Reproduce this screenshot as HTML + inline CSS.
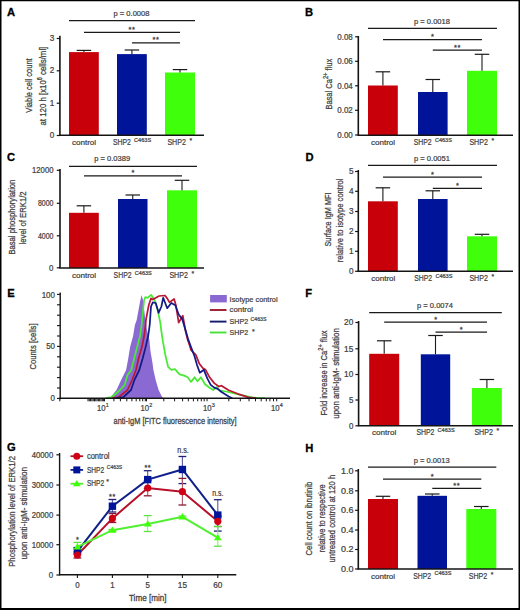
<!DOCTYPE html><html><head><meta charset="utf-8"><style>html,body{margin:0;padding:0;background:#fff;}svg{display:block;}</style></head><body>
<svg width="520" height="610" viewBox="0 0 520 610" font-family='"Liberation Sans", sans-serif'>
<rect x="0.00" y="0.00" width="520.00" height="610.00" fill="#fff"/>
<text x="7.10" y="16.30" font-size="11.2" text-anchor="start" fill="#000" font-weight="bold" stroke="#000" stroke-width="0.3" >A</text>
<line x1="59.90" y1="35.80" x2="59.90" y2="135.50" stroke="#141414" stroke-width="1.6"/>
<line x1="56.70" y1="38.50" x2="59.90" y2="38.50" stroke="#141414" stroke-width="1.2"/>
<text x="54.30" y="40.95" font-size="8.2" text-anchor="end" fill="#404040" stroke="#404040" stroke-width="0.22" >3</text>
<line x1="56.70" y1="70.80" x2="59.90" y2="70.80" stroke="#141414" stroke-width="1.2"/>
<text x="54.30" y="73.25" font-size="8.2" text-anchor="end" fill="#404040" stroke="#404040" stroke-width="0.22" >2</text>
<line x1="56.70" y1="103.20" x2="59.90" y2="103.20" stroke="#141414" stroke-width="1.2"/>
<text x="54.30" y="105.65" font-size="8.2" text-anchor="end" fill="#404040" stroke="#404040" stroke-width="0.22" >1</text>
<line x1="56.70" y1="135.50" x2="59.90" y2="135.50" stroke="#141414" stroke-width="1.2"/>
<text x="54.30" y="137.95" font-size="8.2" text-anchor="end" fill="#404040" stroke="#404040" stroke-width="0.22" >0</text>
<rect x="69.00" y="52.10" width="29.80" height="82.90" fill="#c8000a"/>
<line x1="83.90" y1="52.10" x2="83.90" y2="50.40" stroke="#1a1a1a" stroke-width="1.1"/>
<line x1="76.65" y1="50.40" x2="91.15" y2="50.40" stroke="#1a1a1a" stroke-width="1.2"/>
<rect x="117.00" y="54.10" width="29.80" height="80.90" fill="#00149a"/>
<line x1="131.90" y1="54.10" x2="131.90" y2="50.00" stroke="#1a1a1a" stroke-width="1.1"/>
<line x1="124.65" y1="50.00" x2="139.15" y2="50.00" stroke="#1a1a1a" stroke-width="1.2"/>
<rect x="165.00" y="72.50" width="30.00" height="62.50" fill="#40ff0a"/>
<line x1="180.00" y1="72.50" x2="180.00" y2="69.60" stroke="#1a1a1a" stroke-width="1.1"/>
<line x1="172.75" y1="69.60" x2="187.25" y2="69.60" stroke="#1a1a1a" stroke-width="1.2"/>
<line x1="59.30" y1="135.20" x2="204.00" y2="135.20" stroke="#141414" stroke-width="1.45"/>
<line x1="69.00" y1="20.60" x2="195.00" y2="20.60" stroke="#1a1a1a" stroke-width="1.25"/>
<text x="131.50" y="16.30" font-size="7.7" text-anchor="middle" fill="#404040" textLength="36" lengthAdjust="spacingAndGlyphs" stroke="#404040" stroke-width="0.22" >p = 0.0008</text>
<line x1="84.00" y1="32.30" x2="180.00" y2="32.30" stroke="#1a1a1a" stroke-width="1.25"/>
<text x="132.00" y="31.80" font-size="7.4" text-anchor="middle" fill="#404040" stroke="#404040" stroke-width="0.3" letter-spacing="0.6">**</text>
<line x1="132.00" y1="42.80" x2="180.00" y2="42.80" stroke="#1a1a1a" stroke-width="1.25"/>
<text x="156.00" y="42.30" font-size="7.4" text-anchor="middle" fill="#404040" stroke="#404040" stroke-width="0.3" letter-spacing="0.6">**</text>
<text x="84.00" y="145.00" font-size="8" text-anchor="middle" fill="#404040" textLength="24.2" lengthAdjust="spacingAndGlyphs" stroke="#404040" stroke-width="0.22" >control</text>
<text x="112.90" y="145.00" font-size="8.799999999999999" text-anchor="start" fill="#404040" textLength="18" lengthAdjust="spacingAndGlyphs" stroke="#404040" stroke-width="0.22" >SHP2</text>
<text x="134.10" y="141.70" font-size="5.3" text-anchor="start" fill="#404040" textLength="17" lengthAdjust="spacingAndGlyphs" stroke="#404040" stroke-width="0.22" >C463S</text>
<text x="167.40" y="145.00" font-size="8.799999999999999" text-anchor="start" fill="#404040" textLength="18.5" lengthAdjust="spacingAndGlyphs" stroke="#404040" stroke-width="0.22" >SHP2</text>
<text x="190.90" y="142.80" font-size="6.8" text-anchor="middle" fill="#404040" stroke="#404040" stroke-width="0.22" >*</text>
<text x="32.40" y="85.50" font-size="9.5" text-anchor="middle" fill="#404040" textLength="54.3" lengthAdjust="spacingAndGlyphs" transform="rotate(-90 32.40 85.50)" stroke="#404040" stroke-width="0.26" >Viable cell count</text>
<text x="45.90" y="86.10" font-size="9.5" text-anchor="middle" fill="#404040" textLength="78.8" lengthAdjust="spacingAndGlyphs" transform="rotate(-90 45.90 86.10)" stroke="#404040" stroke-width="0.26" >at 120 h [x10<tspan dy="-3.5" font-size="6.5">6</tspan><tspan dy="3.5"> cells/ml]</tspan></text>
<text x="305.00" y="16.40" font-size="11.2" text-anchor="start" fill="#000" font-weight="bold" stroke="#000" stroke-width="0.3" >B</text>
<line x1="358.30" y1="36.00" x2="358.30" y2="135.30" stroke="#141414" stroke-width="1.6"/>
<line x1="355.10" y1="36.80" x2="358.30" y2="36.80" stroke="#141414" stroke-width="1.2"/>
<text x="352.80" y="39.75" font-size="8.2" text-anchor="end" fill="#404040" textLength="15.5" lengthAdjust="spacingAndGlyphs" stroke="#404040" stroke-width="0.22" >0.08</text>
<line x1="355.10" y1="61.30" x2="358.30" y2="61.30" stroke="#141414" stroke-width="1.2"/>
<text x="352.80" y="64.25" font-size="8.2" text-anchor="end" fill="#404040" textLength="15.5" lengthAdjust="spacingAndGlyphs" stroke="#404040" stroke-width="0.22" >0.06</text>
<line x1="355.10" y1="85.80" x2="358.30" y2="85.80" stroke="#141414" stroke-width="1.2"/>
<text x="352.80" y="88.75" font-size="8.2" text-anchor="end" fill="#404040" textLength="15.5" lengthAdjust="spacingAndGlyphs" stroke="#404040" stroke-width="0.22" >0.04</text>
<line x1="355.10" y1="110.30" x2="358.30" y2="110.30" stroke="#141414" stroke-width="1.2"/>
<text x="352.80" y="113.25" font-size="8.2" text-anchor="end" fill="#404040" textLength="15.5" lengthAdjust="spacingAndGlyphs" stroke="#404040" stroke-width="0.22" >0.02</text>
<line x1="355.10" y1="135.00" x2="358.30" y2="135.00" stroke="#141414" stroke-width="1.2"/>
<text x="352.80" y="137.95" font-size="8.2" text-anchor="end" fill="#404040" textLength="15.5" lengthAdjust="spacingAndGlyphs" stroke="#404040" stroke-width="0.22" >0.00</text>
<rect x="368.00" y="85.50" width="29.80" height="49.50" fill="#c8000a"/>
<line x1="382.90" y1="85.50" x2="382.90" y2="71.80" stroke="#1a1a1a" stroke-width="1.1"/>
<line x1="375.65" y1="71.80" x2="390.15" y2="71.80" stroke="#1a1a1a" stroke-width="1.2"/>
<rect x="418.00" y="92.00" width="29.60" height="43.00" fill="#00149a"/>
<line x1="432.80" y1="92.00" x2="432.80" y2="79.50" stroke="#1a1a1a" stroke-width="1.1"/>
<line x1="425.55" y1="79.50" x2="440.05" y2="79.50" stroke="#1a1a1a" stroke-width="1.2"/>
<rect x="467.00" y="70.80" width="30.00" height="64.20" fill="#40ff0a"/>
<line x1="482.00" y1="70.80" x2="482.00" y2="54.30" stroke="#1a1a1a" stroke-width="1.1"/>
<line x1="474.75" y1="54.30" x2="489.25" y2="54.30" stroke="#1a1a1a" stroke-width="1.2"/>
<line x1="357.60" y1="135.20" x2="513.00" y2="135.20" stroke="#141414" stroke-width="1.45"/>
<line x1="368.00" y1="28.30" x2="497.00" y2="28.30" stroke="#1a1a1a" stroke-width="1.25"/>
<text x="432.00" y="24.00" font-size="7.7" text-anchor="middle" fill="#404040" textLength="36" lengthAdjust="spacingAndGlyphs" stroke="#404040" stroke-width="0.22" >p = 0.0018</text>
<line x1="383.00" y1="39.50" x2="482.00" y2="39.50" stroke="#1a1a1a" stroke-width="1.25"/>
<text x="432.50" y="39.00" font-size="7.4" text-anchor="middle" fill="#404040" stroke="#404040" stroke-width="0.3" >*</text>
<line x1="432.80" y1="50.00" x2="482.00" y2="50.00" stroke="#1a1a1a" stroke-width="1.25"/>
<text x="457.40" y="49.50" font-size="7.4" text-anchor="middle" fill="#404040" stroke="#404040" stroke-width="0.3" letter-spacing="0.6">**</text>
<text x="383.00" y="145.00" font-size="8" text-anchor="middle" fill="#404040" textLength="24.2" lengthAdjust="spacingAndGlyphs" stroke="#404040" stroke-width="0.22" >control</text>
<text x="413.70" y="145.00" font-size="8.799999999999999" text-anchor="start" fill="#404040" textLength="18" lengthAdjust="spacingAndGlyphs" stroke="#404040" stroke-width="0.22" >SHP2</text>
<text x="434.90" y="141.70" font-size="5.3" text-anchor="start" fill="#404040" textLength="17" lengthAdjust="spacingAndGlyphs" stroke="#404040" stroke-width="0.22" >C463S</text>
<text x="469.40" y="145.00" font-size="8.799999999999999" text-anchor="start" fill="#404040" textLength="18.5" lengthAdjust="spacingAndGlyphs" stroke="#404040" stroke-width="0.22" >SHP2</text>
<text x="492.90" y="142.80" font-size="6.8" text-anchor="middle" fill="#404040" stroke="#404040" stroke-width="0.22" >*</text>
<text x="332.20" y="84.20" font-size="9.5" text-anchor="middle" fill="#404040" textLength="50.7" lengthAdjust="spacingAndGlyphs" transform="rotate(-90 332.20 84.20)" stroke="#404040" stroke-width="0.26" >Basal Ca<tspan dy="-4" font-size="7.2">2+</tspan><tspan dy="4"> flux</tspan></text>
<text x="7.10" y="161.10" font-size="11.2" text-anchor="start" fill="#000" font-weight="bold" stroke="#000" stroke-width="0.3" >C</text>
<line x1="60.00" y1="169.00" x2="60.00" y2="268.00" stroke="#141414" stroke-width="1.6"/>
<line x1="56.80" y1="170.30" x2="60.00" y2="170.30" stroke="#141414" stroke-width="1.2"/>
<text x="53.50" y="173.25" font-size="8.2" text-anchor="end" fill="#404040" textLength="21.5" lengthAdjust="spacingAndGlyphs" stroke="#404040" stroke-width="0.22" >12000</text>
<line x1="56.80" y1="203.30" x2="60.00" y2="203.30" stroke="#141414" stroke-width="1.2"/>
<text x="53.50" y="206.25" font-size="8.2" text-anchor="end" fill="#404040" textLength="15.5" lengthAdjust="spacingAndGlyphs" stroke="#404040" stroke-width="0.22" >8000</text>
<line x1="56.80" y1="235.80" x2="60.00" y2="235.80" stroke="#141414" stroke-width="1.2"/>
<text x="53.50" y="238.75" font-size="8.2" text-anchor="end" fill="#404040" textLength="15.5" lengthAdjust="spacingAndGlyphs" stroke="#404040" stroke-width="0.22" >4000</text>
<line x1="56.80" y1="267.80" x2="60.00" y2="267.80" stroke="#141414" stroke-width="1.2"/>
<text x="53.50" y="270.75" font-size="8.2" text-anchor="end" fill="#404040" textLength="4.4" lengthAdjust="spacingAndGlyphs" stroke="#404040" stroke-width="0.22" >0</text>
<rect x="69.00" y="212.80" width="29.80" height="55.20" fill="#c8000a"/>
<line x1="83.90" y1="212.80" x2="83.90" y2="205.80" stroke="#1a1a1a" stroke-width="1.1"/>
<line x1="76.65" y1="205.80" x2="91.15" y2="205.80" stroke="#1a1a1a" stroke-width="1.2"/>
<rect x="118.00" y="199.00" width="29.50" height="69.00" fill="#00149a"/>
<line x1="132.75" y1="199.00" x2="132.75" y2="195.00" stroke="#1a1a1a" stroke-width="1.1"/>
<line x1="125.50" y1="195.00" x2="140.00" y2="195.00" stroke="#1a1a1a" stroke-width="1.2"/>
<rect x="167.00" y="190.30" width="30.00" height="77.70" fill="#40ff0a"/>
<line x1="182.00" y1="190.30" x2="182.00" y2="180.30" stroke="#1a1a1a" stroke-width="1.1"/>
<line x1="174.75" y1="180.30" x2="189.25" y2="180.30" stroke="#1a1a1a" stroke-width="1.2"/>
<line x1="59.30" y1="268.00" x2="204.00" y2="268.00" stroke="#141414" stroke-width="1.45"/>
<line x1="69.00" y1="166.30" x2="197.00" y2="166.30" stroke="#1a1a1a" stroke-width="1.25"/>
<text x="112.20" y="161.40" font-size="7.7" text-anchor="middle" fill="#404040" textLength="36" lengthAdjust="spacingAndGlyphs" stroke="#404040" stroke-width="0.22" >p = 0.0389</text>
<line x1="84.00" y1="175.80" x2="182.00" y2="175.80" stroke="#1a1a1a" stroke-width="1.25"/>
<text x="133.00" y="175.30" font-size="7.4" text-anchor="middle" fill="#404040" stroke="#404040" stroke-width="0.3" >*</text>
<text x="84.00" y="278.40" font-size="8" text-anchor="middle" fill="#404040" textLength="24.2" lengthAdjust="spacingAndGlyphs" stroke="#404040" stroke-width="0.22" >control</text>
<text x="113.60" y="278.40" font-size="8.799999999999999" text-anchor="start" fill="#404040" textLength="18" lengthAdjust="spacingAndGlyphs" stroke="#404040" stroke-width="0.22" >SHP2</text>
<text x="134.80" y="275.10" font-size="5.3" text-anchor="start" fill="#404040" textLength="17" lengthAdjust="spacingAndGlyphs" stroke="#404040" stroke-width="0.22" >C463S</text>
<text x="169.40" y="278.40" font-size="8.799999999999999" text-anchor="start" fill="#404040" textLength="18.5" lengthAdjust="spacingAndGlyphs" stroke="#404040" stroke-width="0.22" >SHP2</text>
<text x="192.90" y="276.20" font-size="6.8" text-anchor="middle" fill="#404040" stroke="#404040" stroke-width="0.22" >*</text>
<text x="14.70" y="217.10" font-size="9.5" text-anchor="middle" fill="#404040" textLength="74.8" lengthAdjust="spacingAndGlyphs" transform="rotate(-90 14.70 217.10)" stroke="#404040" stroke-width="0.26" >Basal phosphorylation</text>
<text x="26.00" y="217.90" font-size="9.5" text-anchor="middle" fill="#404040" textLength="53" lengthAdjust="spacingAndGlyphs" transform="rotate(-90 26.00 217.90)" stroke="#404040" stroke-width="0.26" >level of ERK1/2</text>
<text x="305.50" y="161.10" font-size="11.2" text-anchor="start" fill="#000" font-weight="bold" stroke="#000" stroke-width="0.3" >D</text>
<line x1="358.30" y1="170.00" x2="358.30" y2="271.50" stroke="#141414" stroke-width="1.6"/>
<line x1="355.10" y1="171.50" x2="358.30" y2="171.50" stroke="#141414" stroke-width="1.2"/>
<text x="353.50" y="174.45" font-size="8.2" text-anchor="end" fill="#404040" stroke="#404040" stroke-width="0.22" >5</text>
<line x1="355.10" y1="191.30" x2="358.30" y2="191.30" stroke="#141414" stroke-width="1.2"/>
<text x="353.50" y="194.25" font-size="8.2" text-anchor="end" fill="#404040" stroke="#404040" stroke-width="0.22" >4</text>
<line x1="355.10" y1="211.50" x2="358.30" y2="211.50" stroke="#141414" stroke-width="1.2"/>
<text x="353.50" y="214.45" font-size="8.2" text-anchor="end" fill="#404040" stroke="#404040" stroke-width="0.22" >3</text>
<line x1="355.10" y1="231.50" x2="358.30" y2="231.50" stroke="#141414" stroke-width="1.2"/>
<text x="353.50" y="234.45" font-size="8.2" text-anchor="end" fill="#404040" stroke="#404040" stroke-width="0.22" >2</text>
<line x1="355.10" y1="251.30" x2="358.30" y2="251.30" stroke="#141414" stroke-width="1.2"/>
<text x="353.50" y="254.25" font-size="8.2" text-anchor="end" fill="#404040" stroke="#404040" stroke-width="0.22" >1</text>
<line x1="355.10" y1="271.30" x2="358.30" y2="271.30" stroke="#141414" stroke-width="1.2"/>
<text x="353.50" y="274.25" font-size="8.2" text-anchor="end" fill="#404040" stroke="#404040" stroke-width="0.22" >0</text>
<rect x="368.00" y="201.30" width="29.80" height="70.00" fill="#c8000a"/>
<line x1="382.90" y1="201.30" x2="382.90" y2="187.80" stroke="#1a1a1a" stroke-width="1.1"/>
<line x1="375.65" y1="187.80" x2="390.15" y2="187.80" stroke="#1a1a1a" stroke-width="1.2"/>
<rect x="418.00" y="199.00" width="29.60" height="72.30" fill="#00149a"/>
<line x1="432.80" y1="199.00" x2="432.80" y2="190.80" stroke="#1a1a1a" stroke-width="1.1"/>
<line x1="425.55" y1="190.80" x2="440.05" y2="190.80" stroke="#1a1a1a" stroke-width="1.2"/>
<rect x="467.00" y="236.30" width="30.00" height="35.00" fill="#40ff0a"/>
<line x1="482.00" y1="236.30" x2="482.00" y2="234.30" stroke="#1a1a1a" stroke-width="1.1"/>
<line x1="474.75" y1="234.30" x2="489.25" y2="234.30" stroke="#1a1a1a" stroke-width="1.2"/>
<line x1="357.60" y1="271.30" x2="513.00" y2="271.30" stroke="#141414" stroke-width="1.45"/>
<line x1="368.00" y1="165.30" x2="497.00" y2="165.30" stroke="#1a1a1a" stroke-width="1.25"/>
<text x="432.00" y="161.00" font-size="7.7" text-anchor="middle" fill="#404040" textLength="36" lengthAdjust="spacingAndGlyphs" stroke="#404040" stroke-width="0.22" >p = 0.0051</text>
<line x1="383.00" y1="177.00" x2="482.00" y2="177.00" stroke="#1a1a1a" stroke-width="1.25"/>
<text x="432.50" y="176.50" font-size="7.4" text-anchor="middle" fill="#404040" stroke="#404040" stroke-width="0.3" >*</text>
<line x1="432.80" y1="188.30" x2="482.00" y2="188.30" stroke="#1a1a1a" stroke-width="1.25"/>
<text x="457.40" y="187.80" font-size="7.4" text-anchor="middle" fill="#404040" stroke="#404040" stroke-width="0.3" >*</text>
<text x="383.30" y="280.90" font-size="8" text-anchor="middle" fill="#404040" textLength="24.2" lengthAdjust="spacingAndGlyphs" stroke="#404040" stroke-width="0.22" >control</text>
<text x="414.20" y="280.90" font-size="8.799999999999999" text-anchor="start" fill="#404040" textLength="18" lengthAdjust="spacingAndGlyphs" stroke="#404040" stroke-width="0.22" >SHP2</text>
<text x="435.40" y="277.60" font-size="5.3" text-anchor="start" fill="#404040" textLength="17" lengthAdjust="spacingAndGlyphs" stroke="#404040" stroke-width="0.22" >C463S</text>
<text x="469.40" y="280.90" font-size="8.799999999999999" text-anchor="start" fill="#404040" textLength="18.5" lengthAdjust="spacingAndGlyphs" stroke="#404040" stroke-width="0.22" >SHP2</text>
<text x="492.90" y="278.70" font-size="6.8" text-anchor="middle" fill="#404040" stroke="#404040" stroke-width="0.22" >*</text>
<text x="331.20" y="219.50" font-size="9.5" text-anchor="middle" fill="#404040" textLength="54" lengthAdjust="spacingAndGlyphs" transform="rotate(-90 331.20 219.50)" stroke="#404040" stroke-width="0.26" >Surface IgM MFI</text>
<text x="343.00" y="220.50" font-size="9.5" text-anchor="middle" fill="#404040" textLength="83.7" lengthAdjust="spacingAndGlyphs" transform="rotate(-90 343.00 220.50)" stroke="#404040" stroke-width="0.26" >relative to isotype control</text>
<text x="7.20" y="297.30" font-size="11.2" text-anchor="start" fill="#000" font-weight="bold" stroke="#000" stroke-width="0.3" >E</text>
<line x1="60.20" y1="292.50" x2="60.20" y2="399.20" stroke="#141414" stroke-width="1.4"/>
<line x1="57.00" y1="398.40" x2="60.20" y2="398.40" stroke="#141414" stroke-width="1.1"/>
<line x1="57.00" y1="388.00" x2="60.20" y2="388.00" stroke="#141414" stroke-width="1.1"/>
<line x1="57.00" y1="377.60" x2="60.20" y2="377.60" stroke="#141414" stroke-width="1.1"/>
<line x1="57.00" y1="367.20" x2="60.20" y2="367.20" stroke="#141414" stroke-width="1.1"/>
<line x1="57.00" y1="356.80" x2="60.20" y2="356.80" stroke="#141414" stroke-width="1.1"/>
<line x1="57.00" y1="346.40" x2="60.20" y2="346.40" stroke="#141414" stroke-width="1.1"/>
<line x1="57.00" y1="336.00" x2="60.20" y2="336.00" stroke="#141414" stroke-width="1.1"/>
<line x1="57.00" y1="325.60" x2="60.20" y2="325.60" stroke="#141414" stroke-width="1.1"/>
<line x1="57.00" y1="315.20" x2="60.20" y2="315.20" stroke="#141414" stroke-width="1.1"/>
<line x1="57.00" y1="304.80" x2="60.20" y2="304.80" stroke="#141414" stroke-width="1.1"/>
<line x1="57.00" y1="294.40" x2="60.20" y2="294.40" stroke="#141414" stroke-width="1.1"/>
<text x="55.00" y="297.50" font-size="8.2" text-anchor="end" fill="#404040" textLength="13.3" lengthAdjust="spacingAndGlyphs" stroke="#404040" stroke-width="0.22" >100</text>
<text x="55.00" y="349.30" font-size="8.2" text-anchor="end" fill="#404040" textLength="8.8" lengthAdjust="spacingAndGlyphs" stroke="#404040" stroke-width="0.22" >50</text>
<text x="55.00" y="401.30" font-size="8.2" text-anchor="end" fill="#404040" textLength="4.4" lengthAdjust="spacingAndGlyphs" stroke="#404040" stroke-width="0.22" >0</text>
<text x="35.70" y="346.50" font-size="9.5" text-anchor="middle" fill="#404040" textLength="46.2" lengthAdjust="spacingAndGlyphs" transform="rotate(-90 35.70 346.50)" stroke="#404040" stroke-width="0.26" >Counts [cells]</text>
<path d="M108,398.3 L110.8,397 L116.5,390 L121.1,380 L126.1,370 L128.3,358.2 L130.1,347.1 L133.1,336 L134.9,325 L136.7,320 L138.5,310 L140,302 L141.6,294.9 L143,300 L144.2,310 L145.3,320 L147,330 L149.4,340 L150.5,351.5 L152.5,363 L153.4,370 L155.7,380 L158.6,390 L162.1,397 L164,398.3 Z" fill="#8a6ad2"/>
<path d="M106,398 L111.9,397 L116,393.5 L120,390 L124.6,385 L127.5,375 L131.2,370 L134.2,358.2 L137.1,347.1 L140.1,336 L141.6,325 L142.6,315 L144.1,300 L145.3,297.2 L147.6,297.8 L151,294.9 L154.5,299.5 L157.4,308.8 L160.3,322.6 L161.2,330 L162.9,341.5 L165.2,354.2 L168.1,366.9 L171.5,369.8 L175,369.2 L179.6,374.4 L184.2,375.6 L187.7,377.3 L191.1,381.9 L194.6,377.3 L197.5,381.3 L200.9,377.3 L205,384.2 L209.6,387.7 L213.1,390 L216.5,387.1 L220,390.6 L226,391.5 L232.3,392.9 L239.5,394.7 L246,396 L252,397.4 L258,398 L265,398.2" fill="none" stroke="#48ea34" stroke-width="1.75" stroke-linejoin="round"/>
<path d="M112,398.2 L118.8,397 L127.5,390 L132.1,380 L136,370 L138.6,358.2 L141.9,347.1 L144.1,336 L145.6,325 L145.9,320 L148.8,305 L151,298.4 L152.8,299.5 L156.8,297.2 L159.1,296 L164.9,295.5 L167.2,298.4 L169.5,302.4 L174.1,299 L175.9,305.3 L178.7,322.6 L182.8,315.7 L185.7,331.8 L188,341 L188.8,342.7 L191.1,350.2 L195.8,354.8 L199.2,363.4 L202.7,368.1 L205.6,369.8 L209.6,377.3 L214.2,383.1 L218.8,386.5 L221.5,385.7 L228.7,390.2 L237.7,393.8 L248.5,397.4 L256,398.2" fill="none" stroke="#b81834" stroke-width="1.75" stroke-linejoin="round"/>
<path d="M116,398.2 L123.5,397 L131,390 L134.4,380 L139.3,370 L142.7,358.2 L145.6,347.1 L148.2,336 L149.7,325 L150.4,315 L151,306.5 L152.8,302.4 L155.7,303 L158.6,312.8 L161.4,306.5 L163.2,297.8 L167.2,308.2 L171.3,303 L175.3,305.3 L178.7,314.5 L182.2,319.1 L185.7,330.7 L188,338.7 L191.1,347.3 L194.6,356.5 L196.9,364.6 L199.8,372.7 L201.5,371.5 L203.8,369.8 L207.3,378.4 L210.7,384.8 L214.2,387.7 L217.7,388.8 L221.5,392 L228.7,396.5 L232.3,398.2" fill="none" stroke="#141a88" stroke-width="1.75" stroke-linejoin="round"/>
<line x1="59.50" y1="398.30" x2="290.00" y2="398.30" stroke="#141414" stroke-width="1.5"/>
<line x1="59.80" y1="398.30" x2="59.80" y2="401.30" stroke="#141414" stroke-width="1.0"/>
<line x1="88.00" y1="398.30" x2="88.00" y2="401.30" stroke="#141414" stroke-width="1.0"/>
<line x1="89.30" y1="398.30" x2="89.30" y2="401.30" stroke="#141414" stroke-width="1.0"/>
<line x1="90.60" y1="398.30" x2="90.60" y2="401.30" stroke="#141414" stroke-width="1.0"/>
<line x1="91.90" y1="398.30" x2="91.90" y2="401.30" stroke="#141414" stroke-width="1.0"/>
<line x1="93.20" y1="398.30" x2="93.20" y2="401.30" stroke="#141414" stroke-width="1.0"/>
<line x1="94.50" y1="398.30" x2="94.50" y2="401.30" stroke="#141414" stroke-width="1.0"/>
<line x1="95.80" y1="398.30" x2="95.80" y2="401.30" stroke="#141414" stroke-width="1.0"/>
<line x1="97.10" y1="398.30" x2="97.10" y2="401.30" stroke="#141414" stroke-width="1.0"/>
<line x1="98.40" y1="398.30" x2="98.40" y2="401.30" stroke="#141414" stroke-width="1.0"/>
<line x1="99.70" y1="398.30" x2="99.70" y2="401.30" stroke="#141414" stroke-width="1.0"/>
<line x1="101.00" y1="398.30" x2="101.00" y2="401.30" stroke="#141414" stroke-width="1.0"/>
<line x1="102.30" y1="398.30" x2="102.30" y2="401.30" stroke="#141414" stroke-width="1.0"/>
<line x1="103.60" y1="398.30" x2="103.60" y2="401.30" stroke="#141414" stroke-width="1.0"/>
<line x1="104.50" y1="398.30" x2="104.50" y2="401.30" stroke="#141414" stroke-width="1.0"/>
<line x1="113.90" y1="398.30" x2="113.90" y2="401.30" stroke="#141414" stroke-width="1.0"/>
<line x1="120.40" y1="398.30" x2="120.40" y2="401.30" stroke="#141414" stroke-width="1.0"/>
<line x1="126.80" y1="398.30" x2="126.80" y2="401.30" stroke="#141414" stroke-width="1.0"/>
<line x1="131.90" y1="398.30" x2="131.90" y2="401.30" stroke="#141414" stroke-width="1.0"/>
<line x1="136.20" y1="398.30" x2="136.20" y2="401.30" stroke="#141414" stroke-width="1.0"/>
<line x1="139.80" y1="398.30" x2="139.80" y2="401.30" stroke="#141414" stroke-width="1.0"/>
<line x1="142.70" y1="398.30" x2="142.70" y2="401.30" stroke="#141414" stroke-width="1.0"/>
<line x1="145.30" y1="398.30" x2="145.30" y2="401.30" stroke="#141414" stroke-width="1.0"/>
<line x1="146.50" y1="398.30" x2="146.50" y2="401.30" stroke="#141414" stroke-width="1.0"/>
<line x1="163.80" y1="398.30" x2="163.80" y2="401.30" stroke="#141414" stroke-width="1.0"/>
<line x1="174.60" y1="398.30" x2="174.60" y2="401.30" stroke="#141414" stroke-width="1.0"/>
<line x1="182.60" y1="398.30" x2="182.60" y2="401.30" stroke="#141414" stroke-width="1.0"/>
<line x1="188.30" y1="398.30" x2="188.30" y2="401.30" stroke="#141414" stroke-width="1.0"/>
<line x1="193.40" y1="398.30" x2="193.40" y2="401.30" stroke="#141414" stroke-width="1.0"/>
<line x1="197.70" y1="398.30" x2="197.70" y2="401.30" stroke="#141414" stroke-width="1.0"/>
<line x1="201.30" y1="398.30" x2="201.30" y2="401.30" stroke="#141414" stroke-width="1.0"/>
<line x1="204.20" y1="398.30" x2="204.20" y2="401.30" stroke="#141414" stroke-width="1.0"/>
<line x1="207.00" y1="398.30" x2="207.00" y2="401.30" stroke="#141414" stroke-width="1.0"/>
<line x1="228.80" y1="398.30" x2="228.80" y2="401.30" stroke="#141414" stroke-width="1.0"/>
<line x1="240.30" y1="398.30" x2="240.30" y2="401.30" stroke="#141414" stroke-width="1.0"/>
<line x1="249.00" y1="398.30" x2="249.00" y2="401.30" stroke="#141414" stroke-width="1.0"/>
<line x1="255.50" y1="398.30" x2="255.50" y2="401.30" stroke="#141414" stroke-width="1.0"/>
<line x1="261.20" y1="398.30" x2="261.20" y2="401.30" stroke="#141414" stroke-width="1.0"/>
<line x1="266.30" y1="398.30" x2="266.30" y2="401.30" stroke="#141414" stroke-width="1.0"/>
<line x1="269.90" y1="398.30" x2="269.90" y2="401.30" stroke="#141414" stroke-width="1.0"/>
<line x1="273.50" y1="398.30" x2="273.50" y2="401.30" stroke="#141414" stroke-width="1.0"/>
<line x1="276.70" y1="398.30" x2="276.70" y2="401.30" stroke="#141414" stroke-width="1.0"/>
<text x="97.00" y="410.80" font-size="8.2" text-anchor="start" fill="#404040" textLength="8.6" lengthAdjust="spacingAndGlyphs" stroke="#404040" stroke-width="0.22" >10</text>
<text x="105.80" y="406.50" font-size="5.5" text-anchor="start" fill="#404040" stroke="#404040" stroke-width="0.22" >1</text>
<text x="140.50" y="410.80" font-size="8.2" text-anchor="start" fill="#404040" textLength="8.6" lengthAdjust="spacingAndGlyphs" stroke="#404040" stroke-width="0.22" >10</text>
<text x="149.30" y="406.50" font-size="5.5" text-anchor="start" fill="#404040" stroke="#404040" stroke-width="0.22" >2</text>
<text x="203.00" y="410.80" font-size="8.2" text-anchor="start" fill="#404040" textLength="8.6" lengthAdjust="spacingAndGlyphs" stroke="#404040" stroke-width="0.22" >10</text>
<text x="211.80" y="406.50" font-size="5.5" text-anchor="start" fill="#404040" stroke="#404040" stroke-width="0.22" >3</text>
<text x="271.00" y="410.80" font-size="8.2" text-anchor="start" fill="#404040" textLength="8.6" lengthAdjust="spacingAndGlyphs" stroke="#404040" stroke-width="0.22" >10</text>
<text x="279.80" y="406.50" font-size="5.5" text-anchor="start" fill="#404040" stroke="#404040" stroke-width="0.22" >4</text>
<text x="175.00" y="424.20" font-size="9.2" text-anchor="middle" fill="#404040" textLength="123" lengthAdjust="spacingAndGlyphs" stroke="#404040" stroke-width="0.28" >anti-IgM [FITC fluorescence intensity]</text>
<rect x="210.10" y="295.00" width="16.70" height="7.40" fill="#8a6ad2"/>
<text x="229.60" y="301.70" font-size="8" text-anchor="start" fill="#404040" textLength="48" lengthAdjust="spacingAndGlyphs" stroke="#404040" stroke-width="0.22" >Isotype control</text>
<line x1="209.80" y1="310.00" x2="226.50" y2="310.00" stroke="#9c1a2c" stroke-width="1.9"/>
<text x="229.60" y="312.40" font-size="8" text-anchor="start" fill="#404040" textLength="23.4" lengthAdjust="spacingAndGlyphs" stroke="#404040" stroke-width="0.22" >control</text>
<line x1="209.80" y1="321.60" x2="226.50" y2="321.60" stroke="#141a70" stroke-width="1.9"/>
<text x="229.60" y="324.40" font-size="7.8" text-anchor="start" fill="#404040" textLength="18.5" lengthAdjust="spacingAndGlyphs" stroke="#404040" stroke-width="0.22" >SHP2</text>
<text x="250.50" y="320.50" font-size="5.5" text-anchor="start" fill="#404040" textLength="16" lengthAdjust="spacingAndGlyphs" stroke="#404040" stroke-width="0.22" >C463S</text>
<line x1="209.80" y1="332.50" x2="226.50" y2="332.50" stroke="#48e038" stroke-width="1.9"/>
<text x="229.60" y="335.30" font-size="7.8" text-anchor="start" fill="#404040" textLength="18.5" lengthAdjust="spacingAndGlyphs" stroke="#404040" stroke-width="0.22" >SHP2</text>
<text x="252.00" y="333.50" font-size="7" text-anchor="start" fill="#404040" stroke="#404040" stroke-width="0.22" >*</text>
<text x="305.20" y="297.30" font-size="11.2" text-anchor="start" fill="#000" font-weight="bold" stroke="#000" stroke-width="0.3" >F</text>
<line x1="358.60" y1="321.00" x2="358.60" y2="426.00" stroke="#141414" stroke-width="1.6"/>
<line x1="355.40" y1="322.50" x2="358.60" y2="322.50" stroke="#141414" stroke-width="1.2"/>
<text x="353.30" y="325.45" font-size="8.2" text-anchor="end" fill="#404040" textLength="9.2" lengthAdjust="spacingAndGlyphs" stroke="#404040" stroke-width="0.22" >20</text>
<line x1="355.40" y1="348.80" x2="358.60" y2="348.80" stroke="#141414" stroke-width="1.2"/>
<text x="353.30" y="351.75" font-size="8.2" text-anchor="end" fill="#404040" textLength="9.2" lengthAdjust="spacingAndGlyphs" stroke="#404040" stroke-width="0.22" >15</text>
<line x1="355.40" y1="374.50" x2="358.60" y2="374.50" stroke="#141414" stroke-width="1.2"/>
<text x="353.30" y="377.45" font-size="8.2" text-anchor="end" fill="#404040" textLength="9.2" lengthAdjust="spacingAndGlyphs" stroke="#404040" stroke-width="0.22" >10</text>
<line x1="355.40" y1="400.00" x2="358.60" y2="400.00" stroke="#141414" stroke-width="1.2"/>
<text x="353.30" y="402.95" font-size="8.2" text-anchor="end" fill="#404040" textLength="4.4" lengthAdjust="spacingAndGlyphs" stroke="#404040" stroke-width="0.22" >5</text>
<line x1="355.40" y1="425.80" x2="358.60" y2="425.80" stroke="#141414" stroke-width="1.2"/>
<text x="353.30" y="428.75" font-size="8.2" text-anchor="end" fill="#404040" textLength="4.4" lengthAdjust="spacingAndGlyphs" stroke="#404040" stroke-width="0.22" >0</text>
<rect x="369.20" y="353.80" width="30.00" height="72.00" fill="#c8000a"/>
<line x1="384.20" y1="353.80" x2="384.20" y2="340.80" stroke="#1a1a1a" stroke-width="1.1"/>
<line x1="376.95" y1="340.80" x2="391.45" y2="340.80" stroke="#1a1a1a" stroke-width="1.2"/>
<rect x="420.80" y="354.30" width="29.40" height="71.50" fill="#00149a"/>
<line x1="435.50" y1="354.30" x2="435.50" y2="335.50" stroke="#1a1a1a" stroke-width="1.1"/>
<line x1="428.25" y1="335.50" x2="442.75" y2="335.50" stroke="#1a1a1a" stroke-width="1.2"/>
<rect x="472.00" y="388.00" width="29.80" height="37.80" fill="#40ff0a"/>
<line x1="486.90" y1="388.00" x2="486.90" y2="379.50" stroke="#1a1a1a" stroke-width="1.1"/>
<line x1="479.65" y1="379.50" x2="494.15" y2="379.50" stroke="#1a1a1a" stroke-width="1.2"/>
<line x1="357.90" y1="425.80" x2="513.00" y2="425.80" stroke="#141414" stroke-width="1.45"/>
<line x1="369.20" y1="312.50" x2="501.80" y2="312.50" stroke="#1a1a1a" stroke-width="1.25"/>
<text x="435.00" y="308.20" font-size="7.7" text-anchor="middle" fill="#404040" textLength="36" lengthAdjust="spacingAndGlyphs" stroke="#404040" stroke-width="0.22" >p = 0.0074</text>
<line x1="384.20" y1="322.00" x2="487.00" y2="322.00" stroke="#1a1a1a" stroke-width="1.25"/>
<text x="435.60" y="321.50" font-size="7.4" text-anchor="middle" fill="#404040" stroke="#404040" stroke-width="0.3" >*</text>
<line x1="435.50" y1="332.00" x2="487.00" y2="332.00" stroke="#1a1a1a" stroke-width="1.25"/>
<text x="461.25" y="331.50" font-size="7.4" text-anchor="middle" fill="#404040" stroke="#404040" stroke-width="0.3" >*</text>
<text x="384.20" y="435.30" font-size="8" text-anchor="middle" fill="#404040" textLength="24.2" lengthAdjust="spacingAndGlyphs" stroke="#404040" stroke-width="0.22" >control</text>
<text x="416.40" y="435.30" font-size="8.799999999999999" text-anchor="start" fill="#404040" textLength="18" lengthAdjust="spacingAndGlyphs" stroke="#404040" stroke-width="0.22" >SHP2</text>
<text x="437.60" y="432.00" font-size="5.3" text-anchor="start" fill="#404040" textLength="17" lengthAdjust="spacingAndGlyphs" stroke="#404040" stroke-width="0.22" >C463S</text>
<text x="474.40" y="435.30" font-size="8.799999999999999" text-anchor="start" fill="#404040" textLength="18.5" lengthAdjust="spacingAndGlyphs" stroke="#404040" stroke-width="0.22" >SHP2</text>
<text x="497.90" y="433.10" font-size="6.8" text-anchor="middle" fill="#404040" stroke="#404040" stroke-width="0.22" >*</text>
<text x="326.70" y="373.00" font-size="9.5" text-anchor="middle" fill="#404040" textLength="85" lengthAdjust="spacingAndGlyphs" transform="rotate(-90 326.70 373.00)" stroke="#404040" stroke-width="0.26" >Fold increase in Ca<tspan dy="-4" font-size="7.2">2+</tspan><tspan dy="4"> flux</tspan></text>
<text x="339.00" y="373.40" font-size="9.5" text-anchor="middle" fill="#404040" textLength="90.6" lengthAdjust="spacingAndGlyphs" transform="rotate(-90 339.00 373.40)" stroke="#404040" stroke-width="0.26" >upon anti-IgM- stimulation</text>
<text x="6.90" y="451.20" font-size="11.2" text-anchor="start" fill="#000" font-weight="bold" stroke="#000" stroke-width="0.3" >G</text>
<line x1="59.60" y1="453.00" x2="59.60" y2="575.30" stroke="#141414" stroke-width="1.4"/>
<line x1="56.40" y1="454.80" x2="59.60" y2="454.80" stroke="#141414" stroke-width="1.2"/>
<text x="53.20" y="457.75" font-size="8.2" text-anchor="end" fill="#404040" textLength="21.5" lengthAdjust="spacingAndGlyphs" stroke="#404040" stroke-width="0.22" >40000</text>
<line x1="56.40" y1="485.00" x2="59.60" y2="485.00" stroke="#141414" stroke-width="1.2"/>
<text x="53.20" y="487.95" font-size="8.2" text-anchor="end" fill="#404040" textLength="21.5" lengthAdjust="spacingAndGlyphs" stroke="#404040" stroke-width="0.22" >30000</text>
<line x1="56.40" y1="515.10" x2="59.60" y2="515.10" stroke="#141414" stroke-width="1.2"/>
<text x="53.20" y="518.05" font-size="8.2" text-anchor="end" fill="#404040" textLength="21.5" lengthAdjust="spacingAndGlyphs" stroke="#404040" stroke-width="0.22" >20000</text>
<line x1="56.40" y1="544.70" x2="59.60" y2="544.70" stroke="#141414" stroke-width="1.2"/>
<text x="53.20" y="547.65" font-size="8.2" text-anchor="end" fill="#404040" textLength="21.5" lengthAdjust="spacingAndGlyphs" stroke="#404040" stroke-width="0.22" >10000</text>
<line x1="56.40" y1="575.00" x2="59.60" y2="575.00" stroke="#141414" stroke-width="1.2"/>
<text x="53.20" y="577.95" font-size="8.2" text-anchor="end" fill="#404040" textLength="4.4" lengthAdjust="spacingAndGlyphs" stroke="#404040" stroke-width="0.22" >0</text>
<line x1="59.00" y1="574.70" x2="236.30" y2="574.70" stroke="#141414" stroke-width="1.5"/>
<line x1="77.40" y1="574.70" x2="77.40" y2="577.90" stroke="#141414" stroke-width="1.1"/>
<text x="77.40" y="588.30" font-size="8.2" text-anchor="middle" fill="#404040" textLength="4.4" lengthAdjust="spacingAndGlyphs" stroke="#404040" stroke-width="0.22" >0</text>
<line x1="112.40" y1="574.70" x2="112.40" y2="577.90" stroke="#141414" stroke-width="1.1"/>
<text x="112.40" y="588.30" font-size="8.2" text-anchor="middle" fill="#404040" textLength="4.4" lengthAdjust="spacingAndGlyphs" stroke="#404040" stroke-width="0.22" >1</text>
<line x1="147.70" y1="574.70" x2="147.70" y2="577.90" stroke="#141414" stroke-width="1.1"/>
<text x="147.70" y="588.30" font-size="8.2" text-anchor="middle" fill="#404040" textLength="4.4" lengthAdjust="spacingAndGlyphs" stroke="#404040" stroke-width="0.22" >5</text>
<line x1="182.40" y1="574.70" x2="182.40" y2="577.90" stroke="#141414" stroke-width="1.1"/>
<text x="182.40" y="588.30" font-size="8.2" text-anchor="middle" fill="#404040" textLength="9.2" lengthAdjust="spacingAndGlyphs" stroke="#404040" stroke-width="0.22" >15</text>
<line x1="217.80" y1="574.70" x2="217.80" y2="577.90" stroke="#141414" stroke-width="1.1"/>
<text x="217.80" y="588.30" font-size="8.2" text-anchor="middle" fill="#404040" textLength="9.2" lengthAdjust="spacingAndGlyphs" stroke="#404040" stroke-width="0.22" >60</text>
<text x="147.70" y="600.70" font-size="9.2" text-anchor="middle" fill="#404040" textLength="37.5" lengthAdjust="spacingAndGlyphs" stroke="#404040" stroke-width="0.28" >Time [min]</text>
<text x="14.70" y="511.40" font-size="9.5" text-anchor="middle" fill="#404040" textLength="110.8" lengthAdjust="spacingAndGlyphs" transform="rotate(-90 14.70 511.40)" stroke="#404040" stroke-width="0.26" >Phosphorylation level of ERK1/2</text>
<text x="27.00" y="513.20" font-size="9.5" text-anchor="middle" fill="#404040" textLength="92.5" lengthAdjust="spacingAndGlyphs" transform="rotate(-90 27.00 513.20)" stroke="#404040" stroke-width="0.26" >upon anti-IgM- stimulation</text>
<line x1="77.40" y1="547.50" x2="77.40" y2="554.00" stroke="#5a5a98" stroke-width="1.1"/>
<line x1="73.50" y1="547.50" x2="81.30" y2="547.50" stroke="#20207a" stroke-width="1.3"/>
<line x1="73.50" y1="554.00" x2="81.30" y2="554.00" stroke="#20207a" stroke-width="1.3"/>
<line x1="112.40" y1="499.50" x2="112.40" y2="512.00" stroke="#5a5a98" stroke-width="1.1"/>
<line x1="108.50" y1="499.50" x2="116.30" y2="499.50" stroke="#20207a" stroke-width="1.3"/>
<line x1="108.50" y1="512.00" x2="116.30" y2="512.00" stroke="#20207a" stroke-width="1.3"/>
<line x1="147.70" y1="470.70" x2="147.70" y2="488.50" stroke="#5a5a98" stroke-width="1.1"/>
<line x1="143.80" y1="470.70" x2="151.60" y2="470.70" stroke="#20207a" stroke-width="1.3"/>
<line x1="143.80" y1="488.50" x2="151.60" y2="488.50" stroke="#20207a" stroke-width="1.3"/>
<line x1="182.40" y1="456.50" x2="182.40" y2="483.60" stroke="#5a5a98" stroke-width="1.1"/>
<line x1="178.50" y1="456.50" x2="186.30" y2="456.50" stroke="#20207a" stroke-width="1.3"/>
<line x1="178.50" y1="483.60" x2="186.30" y2="483.60" stroke="#20207a" stroke-width="1.3"/>
<line x1="217.80" y1="499.70" x2="217.80" y2="531.10" stroke="#5a5a98" stroke-width="1.1"/>
<line x1="213.90" y1="499.70" x2="221.70" y2="499.70" stroke="#20207a" stroke-width="1.3"/>
<line x1="213.90" y1="531.10" x2="221.70" y2="531.10" stroke="#20207a" stroke-width="1.3"/>
<line x1="77.40" y1="552.00" x2="77.40" y2="558.00" stroke="#b05468" stroke-width="1.1"/>
<line x1="73.50" y1="552.00" x2="81.30" y2="552.00" stroke="#8a1a30" stroke-width="1.3"/>
<line x1="73.50" y1="558.00" x2="81.30" y2="558.00" stroke="#8a1a30" stroke-width="1.3"/>
<line x1="112.40" y1="513.60" x2="112.40" y2="522.50" stroke="#b05468" stroke-width="1.1"/>
<line x1="108.50" y1="513.60" x2="116.30" y2="513.60" stroke="#8a1a30" stroke-width="1.3"/>
<line x1="108.50" y1="522.50" x2="116.30" y2="522.50" stroke="#8a1a30" stroke-width="1.3"/>
<line x1="147.70" y1="480.50" x2="147.70" y2="495.80" stroke="#b05468" stroke-width="1.1"/>
<line x1="143.80" y1="480.50" x2="151.60" y2="480.50" stroke="#8a1a30" stroke-width="1.3"/>
<line x1="143.80" y1="495.80" x2="151.60" y2="495.80" stroke="#8a1a30" stroke-width="1.3"/>
<line x1="182.40" y1="478.40" x2="182.40" y2="505.00" stroke="#b05468" stroke-width="1.1"/>
<line x1="178.50" y1="478.40" x2="186.30" y2="478.40" stroke="#8a1a30" stroke-width="1.3"/>
<line x1="178.50" y1="505.00" x2="186.30" y2="505.00" stroke="#8a1a30" stroke-width="1.3"/>
<line x1="217.80" y1="516.00" x2="217.80" y2="526.50" stroke="#b05468" stroke-width="1.1"/>
<line x1="213.90" y1="516.00" x2="221.70" y2="516.00" stroke="#8a1a30" stroke-width="1.3"/>
<line x1="213.90" y1="526.50" x2="221.70" y2="526.50" stroke="#8a1a30" stroke-width="1.3"/>
<line x1="77.40" y1="542.40" x2="77.40" y2="549.00" stroke="#8af070" stroke-width="1.1"/>
<line x1="73.50" y1="542.40" x2="81.30" y2="542.40" stroke="#60e040" stroke-width="1.3"/>
<line x1="73.50" y1="549.00" x2="81.30" y2="549.00" stroke="#60e040" stroke-width="1.3"/>
<line x1="112.40" y1="529.50" x2="112.40" y2="531.00" stroke="#8af070" stroke-width="1.1"/>
<line x1="108.50" y1="529.50" x2="116.30" y2="529.50" stroke="#60e040" stroke-width="1.3"/>
<line x1="108.50" y1="531.00" x2="116.30" y2="531.00" stroke="#60e040" stroke-width="1.3"/>
<line x1="147.70" y1="515.60" x2="147.70" y2="531.50" stroke="#8af070" stroke-width="1.1"/>
<line x1="143.80" y1="515.60" x2="151.60" y2="515.60" stroke="#60e040" stroke-width="1.3"/>
<line x1="143.80" y1="531.50" x2="151.60" y2="531.50" stroke="#60e040" stroke-width="1.3"/>
<line x1="182.40" y1="516.00" x2="182.40" y2="518.00" stroke="#8af070" stroke-width="1.1"/>
<line x1="178.50" y1="516.00" x2="186.30" y2="516.00" stroke="#60e040" stroke-width="1.3"/>
<line x1="178.50" y1="518.00" x2="186.30" y2="518.00" stroke="#60e040" stroke-width="1.3"/>
<line x1="217.80" y1="526.50" x2="217.80" y2="546.20" stroke="#8af070" stroke-width="1.1"/>
<line x1="213.90" y1="526.50" x2="221.70" y2="526.50" stroke="#60e040" stroke-width="1.3"/>
<line x1="213.90" y1="546.20" x2="221.70" y2="546.20" stroke="#60e040" stroke-width="1.3"/>
<path d="M77.4,551.3 L112.4,506.2 L147.7,479.6 L182.4,469.5 L217.8,515.1" fill="none" stroke="#10208a" stroke-width="2"/>
<path d="M77.4,555 L112.4,518.4 L147.7,488 L182.4,491.7 L217.8,521.3" fill="none" stroke="#b8102a" stroke-width="2"/>
<path d="M77.4,546.9 L112.4,530.2 L147.7,523.9 L182.4,516.8 L217.8,537.7" fill="none" stroke="#50f030" stroke-width="2"/>
<rect x="73.70" y="547.60" width="7.40" height="7.40" fill="#00149a"/>
<rect x="108.70" y="502.50" width="7.40" height="7.40" fill="#00149a"/>
<rect x="144.00" y="475.90" width="7.40" height="7.40" fill="#00149a"/>
<rect x="178.70" y="465.80" width="7.40" height="7.40" fill="#00149a"/>
<rect x="214.10" y="511.40" width="7.40" height="7.40" fill="#00149a"/>
<circle cx="77.4" cy="555" r="3.6" fill="#d00014"/>
<circle cx="112.4" cy="518.4" r="3.6" fill="#d00014"/>
<circle cx="147.7" cy="488" r="3.6" fill="#d00014"/>
<circle cx="182.4" cy="491.7" r="3.6" fill="#d00014"/>
<circle cx="217.8" cy="521.3" r="3.6" fill="#d00014"/>
<path d="M77.4,543.1999999999999 L81.28500000000001,549.564 L73.515,549.564 Z" fill="#40ff0a"/>
<path d="M112.4,526.5 L116.28500000000001,532.864 L108.515,532.864 Z" fill="#40ff0a"/>
<path d="M147.7,520.1999999999999 L151.58499999999998,526.564 L143.815,526.564 Z" fill="#40ff0a"/>
<path d="M182.4,513.0999999999999 L186.285,519.4639999999999 L178.51500000000001,519.4639999999999 Z" fill="#40ff0a"/>
<path d="M217.8,534.0 L221.685,540.364 L213.91500000000002,540.364 Z" fill="#40ff0a"/>
<text x="77.40" y="542.20" font-size="7.2" text-anchor="middle" fill="#404040" stroke="#404040" stroke-width="0.3" >*</text>
<text x="112.40" y="499.00" font-size="7.2" text-anchor="middle" fill="#404040" stroke="#404040" stroke-width="0.3" letter-spacing="0.5">**</text>
<text x="147.70" y="469.80" font-size="7.2" text-anchor="middle" fill="#404040" stroke="#404040" stroke-width="0.3" letter-spacing="0.5">**</text>
<text x="183.00" y="452.50" font-size="8.2" text-anchor="middle" fill="#404040" textLength="11.7" lengthAdjust="spacingAndGlyphs" stroke="#404040" stroke-width="0.22" >n.s.</text>
<text x="217.80" y="495.60" font-size="8.2" text-anchor="middle" fill="#404040" textLength="11.1" lengthAdjust="spacingAndGlyphs" stroke="#404040" stroke-width="0.22" >n.s.</text>
<line x1="70.50" y1="456.20" x2="83.10" y2="456.20" stroke="#b8102a" stroke-width="1.8"/>
<circle cx="76.8" cy="456.2" r="3.5" fill="#d00014"/>
<text x="86.90" y="458.50" font-size="8.4" text-anchor="start" fill="#404040" textLength="22.6" lengthAdjust="spacingAndGlyphs" stroke="#404040" stroke-width="0.22" >control</text>
<line x1="70.50" y1="469.90" x2="83.10" y2="469.90" stroke="#10208a" stroke-width="1.8"/>
<rect x="73.30" y="466.40" width="7.00" height="7.00" fill="#00149a"/>
<text x="86.90" y="473.00" font-size="8.2" text-anchor="start" fill="#404040" textLength="17.2" lengthAdjust="spacingAndGlyphs" stroke="#404040" stroke-width="0.22" >SHP2</text>
<text x="106.80" y="468.60" font-size="5.5" text-anchor="start" fill="#404040" textLength="15.4" lengthAdjust="spacingAndGlyphs" stroke="#404040" stroke-width="0.22" >C463S</text>
<line x1="70.50" y1="483.70" x2="83.10" y2="483.70" stroke="#50f030" stroke-width="1.8"/>
<path d="M76.8,480.0 L80.685,486.364 L72.91499999999999,486.364 Z" fill="#40ff0a"/>
<text x="86.90" y="486.00" font-size="8.2" text-anchor="start" fill="#404040" textLength="17.2" lengthAdjust="spacingAndGlyphs" stroke="#404040" stroke-width="0.22" >SHP2</text>
<text x="106.20" y="484.00" font-size="7" text-anchor="start" fill="#404040" stroke="#404040" stroke-width="0.22" >*</text>
<text x="305.20" y="452.00" font-size="11.2" text-anchor="start" fill="#000" font-weight="bold" stroke="#000" stroke-width="0.3" >H</text>
<line x1="358.30" y1="469.00" x2="358.30" y2="569.30" stroke="#141414" stroke-width="1.6"/>
<line x1="355.10" y1="470.80" x2="358.30" y2="470.80" stroke="#141414" stroke-width="1.2"/>
<text x="353.50" y="473.75" font-size="8.2" text-anchor="end" fill="#404040" textLength="12.5" lengthAdjust="spacingAndGlyphs" stroke="#404040" stroke-width="0.22" >1.0</text>
<line x1="355.10" y1="490.80" x2="358.30" y2="490.80" stroke="#141414" stroke-width="1.2"/>
<text x="353.50" y="493.75" font-size="8.2" text-anchor="end" fill="#404040" textLength="12.5" lengthAdjust="spacingAndGlyphs" stroke="#404040" stroke-width="0.22" >0.8</text>
<line x1="355.10" y1="510.30" x2="358.30" y2="510.30" stroke="#141414" stroke-width="1.2"/>
<text x="353.50" y="513.25" font-size="8.2" text-anchor="end" fill="#404040" textLength="12.5" lengthAdjust="spacingAndGlyphs" stroke="#404040" stroke-width="0.22" >0.6</text>
<line x1="355.10" y1="530.00" x2="358.30" y2="530.00" stroke="#141414" stroke-width="1.2"/>
<text x="353.50" y="532.95" font-size="8.2" text-anchor="end" fill="#404040" textLength="12.5" lengthAdjust="spacingAndGlyphs" stroke="#404040" stroke-width="0.22" >0.4</text>
<line x1="355.10" y1="549.50" x2="358.30" y2="549.50" stroke="#141414" stroke-width="1.2"/>
<text x="353.50" y="552.45" font-size="8.2" text-anchor="end" fill="#404040" textLength="12.5" lengthAdjust="spacingAndGlyphs" stroke="#404040" stroke-width="0.22" >0.2</text>
<line x1="355.10" y1="569.00" x2="358.30" y2="569.00" stroke="#141414" stroke-width="1.2"/>
<text x="353.50" y="571.95" font-size="8.2" text-anchor="end" fill="#404040" textLength="12.5" lengthAdjust="spacingAndGlyphs" stroke="#404040" stroke-width="0.22" >0.0</text>
<rect x="368.00" y="499.00" width="30.00" height="70.00" fill="#c8000a"/>
<line x1="383.00" y1="499.00" x2="383.00" y2="496.30" stroke="#1a1a1a" stroke-width="1.1"/>
<line x1="375.75" y1="496.30" x2="390.25" y2="496.30" stroke="#1a1a1a" stroke-width="1.2"/>
<rect x="417.50" y="495.80" width="29.50" height="73.20" fill="#00149a"/>
<line x1="432.25" y1="495.80" x2="432.25" y2="494.00" stroke="#1a1a1a" stroke-width="1.1"/>
<line x1="425.00" y1="494.00" x2="439.50" y2="494.00" stroke="#1a1a1a" stroke-width="1.2"/>
<rect x="466.30" y="509.00" width="30.00" height="60.00" fill="#40ff0a"/>
<line x1="481.30" y1="509.00" x2="481.30" y2="506.50" stroke="#1a1a1a" stroke-width="1.1"/>
<line x1="474.05" y1="506.50" x2="488.55" y2="506.50" stroke="#1a1a1a" stroke-width="1.2"/>
<line x1="357.60" y1="569.00" x2="513.00" y2="569.00" stroke="#141414" stroke-width="1.45"/>
<line x1="368.00" y1="467.00" x2="496.30" y2="467.00" stroke="#1a1a1a" stroke-width="1.25"/>
<text x="431.65" y="462.50" font-size="7.7" text-anchor="middle" fill="#404040" textLength="36" lengthAdjust="spacingAndGlyphs" stroke="#404040" stroke-width="0.22" >p = 0.0013</text>
<line x1="383.00" y1="479.00" x2="481.30" y2="479.00" stroke="#1a1a1a" stroke-width="1.25"/>
<text x="432.15" y="478.50" font-size="7.4" text-anchor="middle" fill="#404040" stroke="#404040" stroke-width="0.3" >*</text>
<line x1="432.30" y1="488.30" x2="481.30" y2="488.30" stroke="#1a1a1a" stroke-width="1.25"/>
<text x="456.80" y="487.80" font-size="7.4" text-anchor="middle" fill="#404040" stroke="#404040" stroke-width="0.3" letter-spacing="0.6">**</text>
<text x="383.00" y="578.70" font-size="8" text-anchor="middle" fill="#404040" textLength="24.2" lengthAdjust="spacingAndGlyphs" stroke="#404040" stroke-width="0.22" >control</text>
<text x="413.20" y="578.70" font-size="8.799999999999999" text-anchor="start" fill="#404040" textLength="18" lengthAdjust="spacingAndGlyphs" stroke="#404040" stroke-width="0.22" >SHP2</text>
<text x="434.40" y="575.40" font-size="5.3" text-anchor="start" fill="#404040" textLength="17" lengthAdjust="spacingAndGlyphs" stroke="#404040" stroke-width="0.22" >C463S</text>
<text x="468.70" y="578.70" font-size="8.799999999999999" text-anchor="start" fill="#404040" textLength="18.5" lengthAdjust="spacingAndGlyphs" stroke="#404040" stroke-width="0.22" >SHP2</text>
<text x="492.20" y="576.50" font-size="6.8" text-anchor="middle" fill="#404040" stroke="#404040" stroke-width="0.22" >*</text>
<text x="312.30" y="518.60" font-size="9.5" text-anchor="middle" fill="#404040" textLength="73.8" lengthAdjust="spacingAndGlyphs" transform="rotate(-90 312.30 518.60)" stroke="#404040" stroke-width="0.26" >Cell count on ibrutinib</text>
<text x="324.50" y="518.50" font-size="9.5" text-anchor="middle" fill="#404040" textLength="68" lengthAdjust="spacingAndGlyphs" transform="rotate(-90 324.50 518.50)" stroke="#404040" stroke-width="0.26" >relative to respective</text>
<text x="335.30" y="518.60" font-size="9.5" text-anchor="middle" fill="#404040" textLength="87.6" lengthAdjust="spacingAndGlyphs" transform="rotate(-90 335.30 518.60)" stroke="#404040" stroke-width="0.26" >untreated control at 120 h</text>
<path d="M0,0 H520 V610 H0 Z M1.5,1.2 V608.1 H518.5 V1.2 Z" fill="#000" fill-rule="evenodd"/>
</svg></body></html>
